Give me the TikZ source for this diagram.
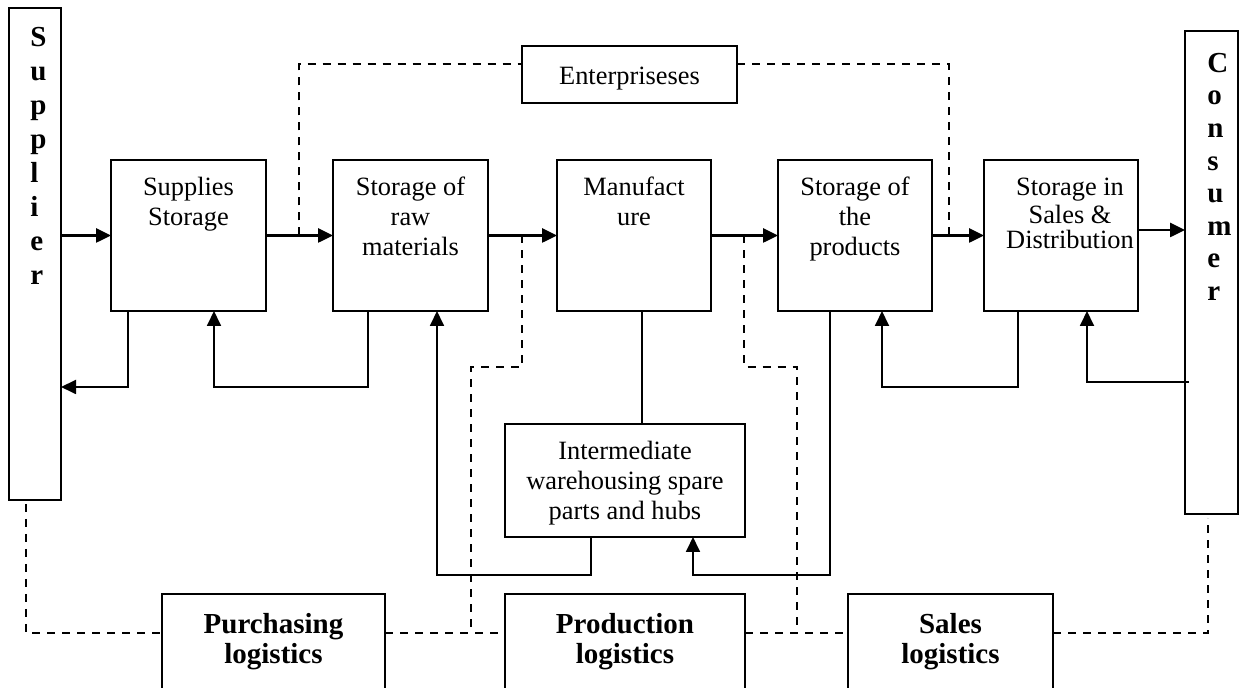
\documentclass[tikz,border=0pt]{standalone}
\usepackage{fontspec}
\setmainfont{Liberation Serif}
\usetikzlibrary{arrows.meta,calc}
\begin{document}
\begin{tikzpicture}[x=0.5pt,y=-0.5pt,
  box/.style={draw,line width=0.9pt,inner sep=0pt,outer sep=0pt},
  txt/.style={font=\fontsize{13.2}{15}\selectfont,align=center,inner sep=0pt,anchor=north},
  txtb/.style={font=\fontsize{14.5}{15}\selectfont\bfseries,align=center,inner sep=0pt,anchor=north},
  mainarr/.style={line width=1.3pt,-{Triangle[length=7.5pt,width=7pt]}},
  fb/.style={line width=0.9pt},
  fbarr/.style={line width=0.9pt,-{Triangle[length=7.5pt,width=7pt]}},
  dsh/.style={line width=0.8pt,dash pattern=on 4pt off 3.5pt}]
\useasboundingbox (0,0) rectangle (1239,688);

% boxes
\node[box,minimum width=26pt,minimum height=246pt] (sup) at (35,254) {};
\node[box,minimum width=26.5pt,minimum height=241.5pt] (con) at (1211.5,272.5) {};
\node[box,minimum width=77.5pt,minimum height=75.5pt] (ss) at (188.5,235.5) {};
\node[box,minimum width=77.5pt,minimum height=75.5pt] (raw) at (410.5,235.5) {};
\node[box,minimum width=77pt,minimum height=75.5pt] (man) at (634,235.5) {};
\node[box,minimum width=77pt,minimum height=75.5pt] (prod) at (855,235.5) {};
\node[box,minimum width=77pt,minimum height=75.5pt] (sal) at (1061,235.5) {};
\node[box,minimum width=107.5pt,minimum height=28.5pt] (ent) at (629.5,74.5) {};
\node[box,minimum width=120pt,minimum height=56.5pt] (inter) at (625,480.5) {};
\node[box,minimum width=111.5pt,minimum height=49pt] (pur) at (273.5,643) {};
\node[box,minimum width=120pt,minimum height=49pt] (pro) at (625,643) {};
\node[box,minimum width=102.5pt,minimum height=49pt] (sls) at (950.5,643) {};

% texts
\node[font=\fontsize{14.5}{17}\selectfont\bfseries,align=left,inner sep=0pt,anchor=north west] (tsup) at (30,22) {\strut S\\u\\p\\p\\l\\i\\e\\r};
\node[font=\fontsize{14.5}{16.3}\selectfont\bfseries,align=left,inner sep=0pt,anchor=north west] (tcon) at (1207,49) {\strut C\\o\\n\\s\\u\\m\\e\\r};
\node[txt] (tss) at (188.5,174) {\strut Supplies\\Storage};
\node[txt] (traw) at (410.5,174) {\strut Storage of\\raw\\materials};
\node[txt] (tman) at (634,174) {\strut Manufact\\ure};
\node[txt] (tprod) at (855,174) {\strut Storage of\\the\\products};
\node[txt,font=\fontsize{13.2}{12.8}\selectfont] (tsal) at (1070,177) {\strut Storage in\\Sales \&\\Distribution};
\node[txt] (tent) at (629.5,63) {\strut Enterpriseses};
\node[txt] (tint) at (625,438) {\strut Intermediate\\warehousing spare\\parts and hubs};
\node[txtb] (tpur) at (273.5,612) {\strut Purchasing\\logistics};
\node[txtb] (tpro) at (625,612) {\strut Production\\logistics};
\node[txtb] (tsls) at (950.5,612) {\strut Sales\\logistics};

% main flow arrows
\draw[mainarr] (sup.east |- ss.west) -- (ss.west);
\draw[mainarr] (ss.east) -- (raw.west);
\draw[mainarr] (raw.east) -- (man.west);
\draw[mainarr] (man.east) -- (prod.west);
\draw[mainarr] (prod.east) -- (sal.west);
\coordinate (sc) at (1139,230);
\draw[mainarr] (sal.east |- sc) -- (con.west |- sc);

% feedback loops
\coordinate (fbA) at (128,387);
\coordinate (fbB) at (214,387);
\coordinate (fbC) at (368,387);
\coordinate (fbD) at (1018,387);
\coordinate (fbE) at (882,387);
\coordinate (fbF) at (1087,382);
\coordinate (fbG) at (591,575);
\coordinate (fbH) at (437,575);
\coordinate (fbI) at (830,575);
\coordinate (fbJ) at (693,575);
\coordinate (mx) at (642,0);
\draw[fbarr] (ss.south -| fbA) -- (fbA) -- (sup.east |- fbA);
\draw[fbarr] (raw.south -| fbC) -- (fbC) -- (fbB) -- (ss.south -| fbB);
\draw[fbarr] (sal.south -| fbD) -- (fbD) -- (fbE) -- (prod.south -| fbE);
\draw[fbarr] ([xshift=2pt]con.west |- fbF) -- (fbF) -- (sal.south -| fbF);
\draw[fb] (man.south -| mx) -- (inter.north -| mx);
\draw[fbarr] (inter.south -| fbG) -- (fbG) -- (fbH) -- (raw.south -| fbH);
\draw[fbarr] (prod.south -| fbI) -- (fbI) -- (fbJ) -- (inter.south -| fbJ);

% dashed links
\coordinate (dA) at (299,64);
\coordinate (dB) at (949,64);
\draw[dsh] (ss.east -| dA) -- (dA) -- (ent.west |- dA);
\draw[dsh] (ent.east |- dB) -- (dB) -- (prod.east -| dB);
\coordinate (dC) at (522,367);
\coordinate (dD) at (471,367);
\coordinate (dE) at (471,633);
\draw[dsh] (raw.east -| dC) -- (dC) -- (dD) -- (dE);
\coordinate (dF) at (744,367);
\coordinate (dG) at (797,367);
\coordinate (dH) at (797,633);
\draw[dsh] (man.east -| dF) -- (dF) -- (dG) -- (dH);
\coordinate (dI) at (26,633);
\coordinate (dJ) at (1208,633);
\draw[dsh] ([yshift=-2pt]sup.south -| dI) -- (dI) -- (pur.west |- dI);
\draw[dsh] (pur.east |- dI) -- (pro.west |- dI);
\draw[dsh] (pro.east |- dI) -- (sls.west |- dI);
\draw[dsh] (sls.east |- dJ) -- (dJ) -- ([yshift=-2pt]con.south -| dJ);
\end{tikzpicture}
\end{document}
